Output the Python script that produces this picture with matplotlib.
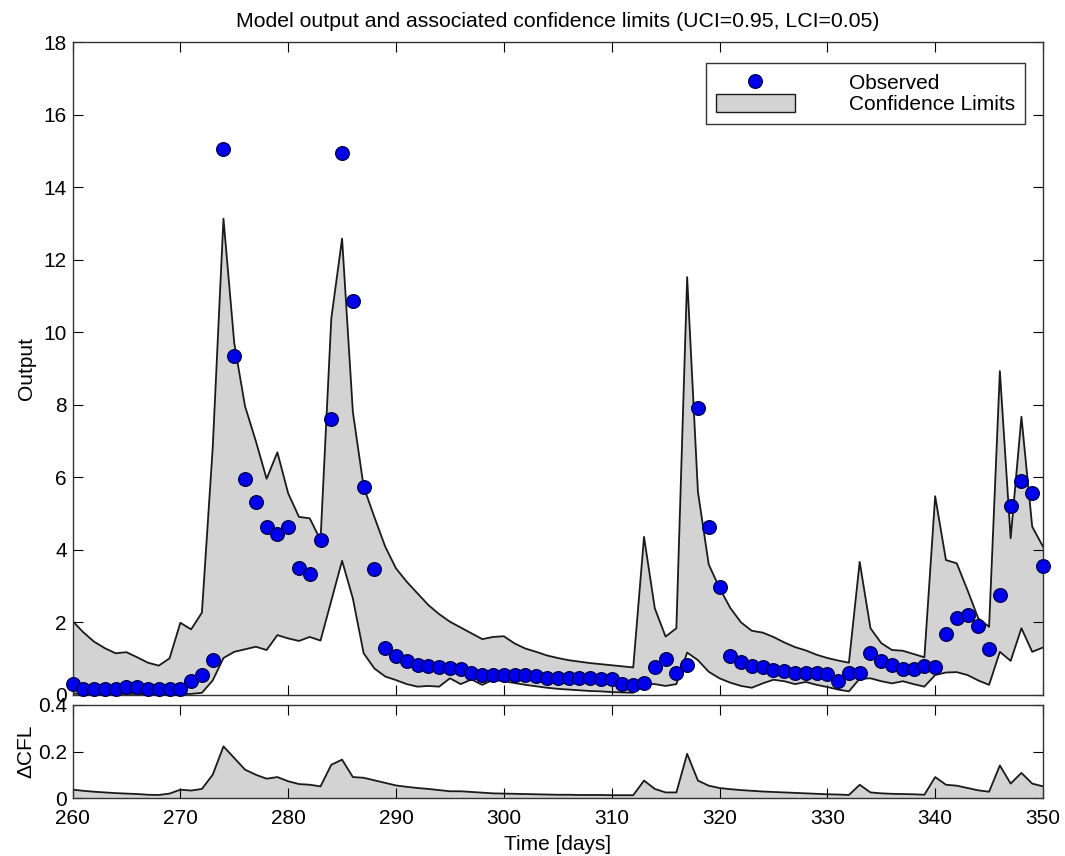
import matplotlib
matplotlib.use("Agg")
import matplotlib.pyplot as plt
from matplotlib.lines import Line2D
from matplotlib.patches import Patch
import numpy as np

plt.rcParams['font.family'] = ['Liberation Sans', 'DejaVu Sans']

days = list(range(260, 351))

observed = [0.29, 0.17, 0.17, 0.17, 0.17, 0.21, 0.23, 0.17, 0.16, 0.16,
            0.16, 0.39, 0.55, 0.96, 15.04, 9.35, 5.96, 5.31, 4.64, 4.45,
            4.62, 3.49, 3.33, 4.28, 7.60, 14.95, 10.85, 5.72, 3.46, 1.29,
            1.07, 0.93, 0.83, 0.80, 0.78, 0.74, 0.71, 0.60, 0.56, 0.56,
            0.56, 0.56, 0.56, 0.52, 0.47, 0.47, 0.46, 0.46, 0.46, 0.45,
            0.44, 0.30, 0.28, 0.32, 0.78, 0.98, 0.60, 0.82, 7.90, 4.62,
            2.98, 1.07, 0.91, 0.80, 0.77, 0.70, 0.65, 0.62, 0.60, 0.60,
            0.58, 0.38, 0.60, 0.60, 1.15, 0.94, 0.82, 0.73, 0.73, 0.80,
            0.77, 1.68, 2.11, 2.21, 1.91, 1.26, 2.76, 5.21, 5.89, 5.57,
            3.55]

upper = [2.04, 1.73, 1.47, 1.29, 1.15, 1.18, 1.04, 0.89, 0.81, 1.01,
         1.99, 1.81, 2.27, 6.80, 13.13, 9.70, 7.96, 7.00, 5.96, 6.69,
         5.56, 4.91, 4.87, 4.27, 10.38, 12.58, 7.80, 5.74, 4.90, 4.09,
         3.49, 3.12, 2.80, 2.48, 2.23, 2.02, 1.86, 1.70, 1.54, 1.60,
         1.62, 1.42, 1.28, 1.19, 1.09, 1.02, 0.96, 0.92, 0.88, 0.85,
         0.82, 0.79, 0.76, 4.36, 2.39, 1.61, 1.84, 11.52, 5.60, 3.60,
         2.95, 2.40, 2.00, 1.77, 1.72, 1.60, 1.45, 1.32, 1.23, 1.11,
         1.02, 0.95, 0.89, 3.67, 1.84, 1.43, 1.24, 1.22, 1.13, 1.04,
         5.48, 3.72, 3.63, 2.89, 2.11, 1.88, 8.93, 4.32, 7.67, 4.64,
         4.09]

lower = [0.04, 0.03, 0.03, 0.03, 0.03, 0.03, 0.03, 0.02, 0.02, 0.02,
         0.03, 0.03, 0.06, 0.40, 1.02, 1.19, 1.26, 1.33, 1.24, 1.65,
         1.56, 1.49, 1.60, 1.50, 2.60, 3.70, 2.66, 1.15, 0.73, 0.51,
         0.41, 0.30, 0.23, 0.25, 0.23, 0.46, 0.30, 0.43, 0.28, 0.42,
         0.38, 0.33, 0.28, 0.24, 0.20, 0.17, 0.15, 0.13, 0.11, 0.10,
         0.08, 0.07, 0.06, 0.32, 0.30, 0.25, 0.30, 1.17, 0.96, 0.64,
         0.46, 0.34, 0.25, 0.20, 0.32, 0.42, 0.38, 0.30, 0.36, 0.28,
         0.22, 0.15, 0.10, 0.45, 0.46, 0.38, 0.32, 0.38, 0.30, 0.23,
         0.55, 0.62, 0.63, 0.55, 0.40, 0.28, 1.19, 0.94, 1.84, 1.19,
         1.31]

dcfl = [0.036, 0.031, 0.027, 0.024, 0.021, 0.019, 0.017, 0.014, 0.013, 0.019,
        0.036, 0.032, 0.039, 0.100, 0.222, 0.172, 0.122, 0.100, 0.083, 0.090,
        0.072, 0.060, 0.057, 0.050, 0.143, 0.165, 0.090, 0.087, 0.076, 0.065,
        0.054, 0.048, 0.043, 0.039, 0.034, 0.029, 0.029, 0.026, 0.023, 0.020,
        0.019, 0.018, 0.017, 0.016, 0.015, 0.014, 0.014, 0.013, 0.013, 0.013,
        0.012, 0.012, 0.012, 0.075, 0.039, 0.024, 0.024, 0.190, 0.075, 0.053,
        0.043, 0.038, 0.034, 0.031, 0.028, 0.026, 0.024, 0.022, 0.020, 0.018,
        0.016, 0.015, 0.013, 0.057, 0.024, 0.020, 0.018, 0.017, 0.016, 0.014,
        0.090, 0.057, 0.053, 0.043, 0.033, 0.027, 0.140, 0.062, 0.108, 0.062,
        0.050]

title = "Model output and associated confidence limits (UCI=0.95, LCI=0.05)"
legend_labels = ['Observed', 'Confidence Limits']

fill_c = '#d3d3d3'
line_c = '#1a1a1a'
dot_c = '#0000ee'
FS = 15

fig = plt.figure(figsize=(10.65, 8.56), dpi=100)
W, H = 1065, 856
ax = fig.add_axes([72.5 / W, 1 - 695 / H, (1043 - 72.5) / W, (695 - 42) / H])
ax2 = fig.add_axes([72.5 / W, 1 - 798 / H, (1043 - 72.5) / W, (798 - 705) / H])

ax.fill_between(days, lower, upper, facecolor=fill_c, edgecolor='none', zorder=1)
ax.plot(days, upper, color=line_c, lw=1.3, zorder=2)
ax.plot(days, lower, color=line_c, lw=1.3, zorder=2)
ax.plot(days, observed, 'o', ms=9.8, mfc=dot_c, mec='#000055', mew=1.0,
        zorder=3, clip_on=False)
ax.set_xlim(260, 350)
ax.set_ylim(0, 18)
ax.set_yticks(np.arange(0, 19, 2))
ax.set_xticks(np.arange(260, 351, 10))
ax.set_xticklabels([])
ax.set_ylabel('Output', fontsize=FS)
ax.set_title(title, fontsize=15.3, pad=11)

handles = [Line2D([], [], ls='none', marker='o', ms=9.8, mfc=dot_c, mec='#000055'),
           Patch(facecolor=fill_c, edgecolor=line_c, lw=1.0)]
leg = ax.legend(handles, legend_labels, loc='upper right',
                bbox_to_anchor=(0.981, 0.968), borderaxespad=0, fontsize=FS,
                frameon=True, fancybox=False, edgecolor='black',
                handlelength=3.8, handleheight=1.0, handletextpad=2.6,
                labelspacing=0.05, borderpad=0.45)
leg.get_frame().set_linewidth(1.0)

ax2.fill_between(days, 0, dcfl, facecolor=fill_c, edgecolor='none', zorder=1)
ax2.plot(days, dcfl, color=line_c, lw=1.3, zorder=2)
ax2.set_xlim(260, 350)
ax2.set_ylim(0, 0.4)
ax2.set_yticks([0, 0.2, 0.4])
ax2.set_yticklabels(['0', '0.2', '0.4'])
ax2.set_xticks(np.arange(260, 351, 10))
ax2.set_xlabel('Time [days]', fontsize=FS, labelpad=5)
ax2.set_ylabel('\u0394CFL', fontsize=FS)

for a in (ax, ax2):
    a.tick_params(direction='in', length=7, width=0.8, top=True, right=True,
                  labelsize=FS, colors='black')
    a.tick_params(axis='y', pad=4)
    a.tick_params(axis='x', pad=8)
    for s in a.spines.values():
        s.set_color('#333333')
        s.set_linewidth(1.0)
ax.yaxis.set_label_coords(-0.038, 0.5)
ax2.yaxis.set_label_coords(-0.038, 0.5)

fig.savefig('out.png', dpi=100)
